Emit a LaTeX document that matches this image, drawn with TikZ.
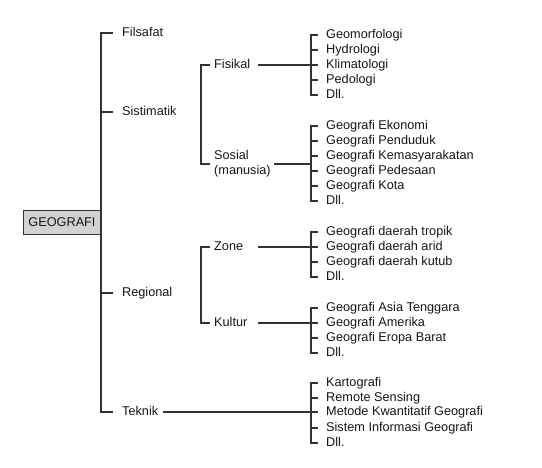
\documentclass[tikz,border=0pt]{standalone}
\usepackage{fontspec}
\setmainfont{Liberation Sans}
\definecolor{lc}{HTML}{333333}
\definecolor{txt}{HTML}{161616}
\definecolor{boxfill}{HTML}{D2D2D2}
\begin{document}
\begin{tikzpicture}[x=1pt,y=-1pt,
  lab/.style={anchor=west, inner sep=0pt, text height=9pt, text depth=2pt,
    font=\fontsize{12.7}{15}\selectfont, text=txt},
  ln/.style={draw=lc, line width=1.3pt},
  rootbox/.style={draw=lc, fill=boxfill, line width=1pt, inner sep=0pt,
    minimum width=78pt, minimum height=24pt, font=\fontsize{12.7}{15}\selectfont, text=txt}]
\useasboundingbox (0,0) rectangle (542,467);
% root
\node[rootbox] (geo) at (62,222) {GEOGRAFI};
% level 1
\node[lab] (filsafat) at (122,33) {Filsafat};
\node[lab] (sistimatik) at (122,112) {Sistimatik};
\node[lab] (regional) at (122,293) {Regional};
\node[lab] (teknik) at (122,412) {Teknik};
% level 2
\node[lab] (fisikal) at (214,65) {Fisikal};
\node[anchor=west, inner sep=0pt, align=left, font=\fontsize{12.7}{15}\selectfont, text=txt] (sosial) at (214,164) {Sosial\\(manusia)};
\node[lab] (zone) at (214,247) {Zone};
\node[lab] (kultur) at (214,323) {Kultur};
% level 3 - Fisikal
\node[lab] (f1) at (326,35) {Geomorfologi};
\node[lab] (f2) at (326,50) {Hydrologi};
\node[lab] (f3) at (326,65) {Klimatologi};
\node[lab] (f4) at (326,80) {Pedologi};
\node[lab] (f5) at (326,95) {Dll.};
% Sosial
\node[lab] (s1) at (326,126) {Geografi Ekonomi};
\node[lab] (s2) at (326,141) {Geografi Penduduk};
\node[lab] (s3) at (326,156) {Geografi Kemasyarakatan};
\node[lab] (s4) at (326,171) {Geografi Pedesaan};
\node[lab] (s5) at (326,186) {Geografi Kota};
\node[lab] (s6) at (326,201) {Dll.};
% Zone
\node[lab] (z1) at (326,232) {Geografi daerah tropik};
\node[lab] (z2) at (326,247) {Geografi daerah arid};
\node[lab] (z3) at (326,262) {Geografi daerah kutub};
\node[lab] (z4) at (326,277) {Dll.};
% Kultur
\node[lab] (k1) at (326,308) {Geografi Asia Tenggara};
\node[lab] (k2) at (326,323) {Geografi Amerika};
\node[lab] (k3) at (326,338) {Geografi Eropa Barat};
\node[lab] (k4) at (326,353) {Dll.};
% Teknik
\node[lab] (t1) at (326,383) {Kartografi};
\node[lab] (t2) at (326,398) {Remote Sensing};
\node[lab] (t3) at (326,412) {Metode Kwantitatif Geografi};
\node[lab] (t4) at (326,428) {Sistem Informasi Geografi};
\node[lab] (t5) at (326,443) {Dll.};
% bracket coordinates
\coordinate (fb) at ([xshift=-15pt]f1.west);
\coordinate (sb) at ([xshift=-15pt]s1.west);
\coordinate (zb) at ([xshift=-15pt]z1.west);
\coordinate (kb) at ([xshift=-15pt]k1.west);
\coordinate (tb) at ([xshift=-15pt]t1.west);
% trunk
\draw[ln] ([xshift=-9pt]filsafat.west) -| ([xshift=-21pt]teknik.west) -- ([xshift=-9pt]teknik.west);
\draw[ln] ([xshift=-9pt]sistimatik.west) -- ++(-12,0);
\draw[ln] ([xshift=-9pt]regional.west) -- ++(-12,0);
% level 2 brackets
\draw[ln] ([xshift=-4pt]fisikal.west) -| ([xshift=-13pt]sosial.west) -- ([xshift=-4pt]sosial.west);
\draw[ln] ([xshift=-4pt]zone.west) -| ([xshift=-13pt]kultur.west) -- ([xshift=-4pt]kultur.west);
% level 3 brackets
\draw[ln] ([xshift=-8pt]f1.west) -| ([xshift=-15pt]f5.west) -- ([xshift=-8pt]f5.west);
\foreach \n in {f2,f3,f4} \draw[ln] ([xshift=-8pt]\n.west) -- ++(-7,0);
\draw[ln] ([xshift=-8pt]s1.west) -| ([xshift=-15pt]s6.west) -- ([xshift=-8pt]s6.west);
\foreach \n in {s2,s3,s4,s5} \draw[ln] ([xshift=-8pt]\n.west) -- ++(-7,0);
\draw[ln] ([xshift=-8pt]z1.west) -| ([xshift=-15pt]z4.west) -- ([xshift=-8pt]z4.west);
\foreach \n in {z2,z3} \draw[ln] ([xshift=-8pt]\n.west) -- ++(-7,0);
\draw[ln] ([xshift=-8pt]k1.west) -| ([xshift=-15pt]k4.west) -- ([xshift=-8pt]k4.west);
\foreach \n in {k2,k3} \draw[ln] ([xshift=-8pt]\n.west) -- ++(-7,0);
\draw[ln] ([xshift=-8pt]t1.west) -| ([xshift=-15pt]t5.west) -- ([xshift=-8pt]t5.west);
\foreach \n in {t2,t3,t4} \draw[ln] ([xshift=-8pt]\n.west) -- ++(-7,0);
% connectors into brackets
\draw[ln] (fisikal.west -| 258,0) -- (fisikal.west -| fb);
\draw[ln] ([xshift=3pt]sosial.east) -- (sosial.east -| sb);
\draw[ln] (zone.west -| 258,0) -- (zone.west -| zb);
\draw[ln] (kultur.west -| 258,0) -- (kultur.west -| kb);
\draw[ln] ([xshift=5pt]teknik.east) -- (teknik.east -| tb);
\end{tikzpicture}
\end{document}
